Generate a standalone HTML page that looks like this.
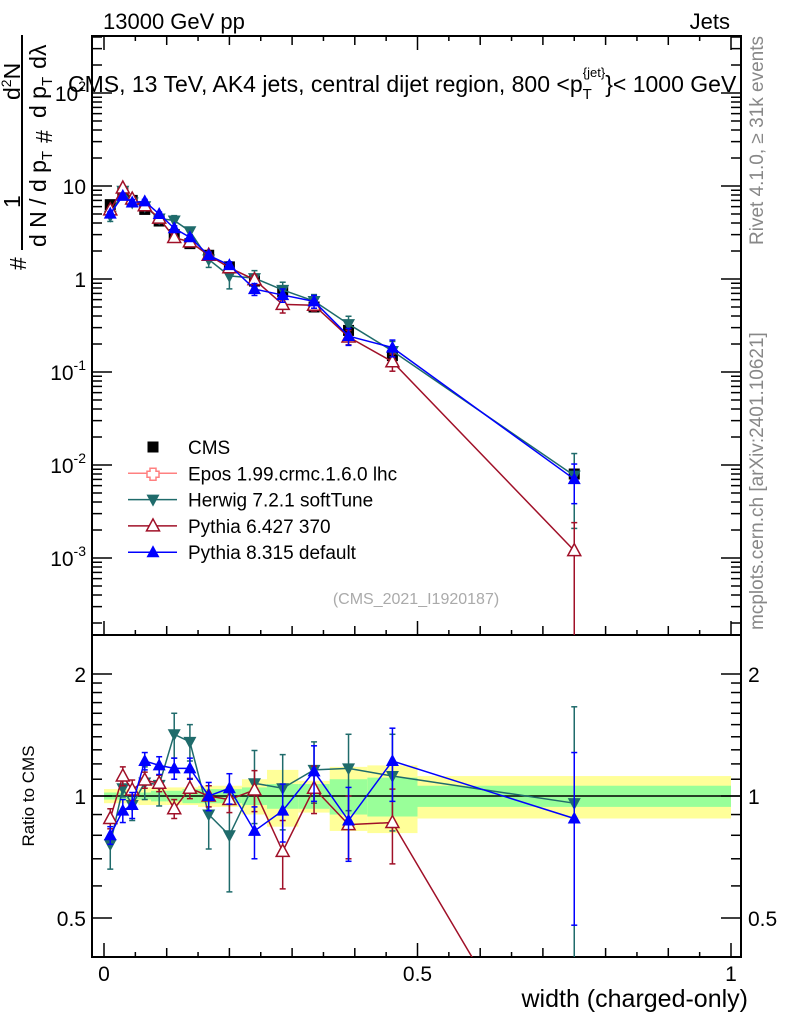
<!DOCTYPE html>
<html><head><meta charset="utf-8"><style>
html,body{margin:0;background:#fff;overflow:hidden;width:786px;height:1024px}
svg{display:block;overflow:hidden}
svg text{font-family:"Liberation Sans",sans-serif}
</style></head><body>
<svg id="chart" width="786" height="1024" xmlns="http://www.w3.org/2000/svg">
<g id="bands"></g>
<g id="axes"></g>
<g id="series"></g>
<text x="103" y="29" font-size="22">13000 GeV pp</text>
<text x="730" y="29" font-size="22" text-anchor="end">Jets</text>
<text x="68" y="92" font-size="23">CMS, 13 TeV, AK4 jets, central dijet region, 800 &lt;p<tspan font-size="15" dy="7">T</tspan><tspan font-size="13" dy="-22" dx="-9">{jet}</tspan><tspan dy="15">}&lt; 1000 GeV</tspan></text>
<text x="416" y="604" font-size="16" fill="#aaa" text-anchor="middle">(CMS_2021_I1920187)</text>
<text transform="translate(763,245) rotate(-90)" font-size="19" fill="#888">Rivet 4.1.0, ≥ 31k events</text>
<text transform="translate(763,630) rotate(-90)" font-size="19" fill="#888">mcplots.cern.ch [arXiv:2401.10621]</text>
<g font-size="23">
 <text transform="translate(26,270) rotate(-90)">#</text>
 <text transform="translate(20,208) rotate(-90)">1</text>
 <line x1="22" y1="250" x2="22" y2="35" stroke="#000" stroke-width="2"/>
 <text transform="translate(46,247) rotate(-90)">d N / d p<tspan font-size="15" dy="6">T</tspan></text>
 <text transform="translate(20,100) rotate(-90)">d<tspan font-size="14" dy="-9">2</tspan><tspan dy="9">N</tspan></text>
 <text transform="translate(52,143) rotate(-90)">#</text>
 <text transform="translate(46,118) rotate(-90)">d p<tspan font-size="15" dy="6">T</tspan><tspan dy="-6" dx="8">dλ</tspan></text>
</g>
<text x="34" y="796" font-size="17" transform="rotate(-90,34,796)" text-anchor="middle">Ratio to CMS</text>
<text x="748" y="1007" font-size="25" text-anchor="end">width (charged-only)</text>
<g id="legend"></g>
</svg>
<script>
const xVals=[0.01,0.03,0.045,0.065,0.088,0.112,0.137,0.167,0.2,0.24,0.285,0.335,0.39,0.46,0.75];
const binEdges=[0,0.02,0.04,0.055,0.075,0.1,0.125,0.15,0.185,0.22,0.26,0.31,0.36,0.42,0.5,1.0];
const cmsVals=[6.3,8.5,7.0,5.6,4.2,3.0,2.4,1.8,1.35,0.95,0.73,0.5,0.28,0.15,0.008];
const greenBand=[0.02,0.02,0.02,0.02,0.03,0.03,0.04,0.04,0.04,0.05,0.07,0.07,0.1,0.11,0.06];
const yellowBand=[0.04,0.04,0.04,0.05,0.05,0.05,0.05,0.06,0.06,0.1,0.16,0.09,0.18,0.19,0.12];
const herwigRatio=[0.76,1.045,0.95,1.08,1.065,1.42,1.36,0.9,0.8,1.075,1.045,1.16,1.17,1.12,0.96];
const herwigErr=[0.1,0.05,0.08,0.1,0.12,0.18,0.14,0.16,0.22,0.22,0.22,0.2,0.25,0.3,0.7];
const py6Ratio=[0.88,1.12,1.035,1.095,1.075,0.93,1.045,1.0,0.98,1.035,0.73,1.045,0.85,0.86,0.15];
const py6Err=[0.05,0.06,0.06,0.05,0.05,0.05,0.06,0.06,0.07,0.12,0.14,0.14,0.15,0.18,0.15];
const py8Ratio=[0.8,0.92,0.95,1.22,1.19,1.17,1.17,1.0,1.045,0.82,0.92,1.15,0.87,1.22,0.88];
const py8Err=[0.04,0.06,0.07,0.06,0.06,0.07,0.07,0.08,0.09,0.12,0.15,0.18,0.18,0.25,0.4];
const cmsErr=[0.03,0.03,0.03,0.03,0.03,0.03,0.04,0.04,0.05,0.06,0.07,0.08,0.1,0.12,0.1];

const NS='http://www.w3.org/2000/svg';
const X0=92,X1=741,MT=36,MB=635,RB=957;
const px=x=>104+627*x;
const py=v=>279-93*Math.log10(v);
const ry=r=>796-405.3*Math.log10(r);
function mk(tag,at,parent){const e=document.createElementNS(NS,tag);for(const k in at)e.setAttribute(k,at[k]);parent.appendChild(e);return e;}
const bands=document.getElementById('bands'),axes=document.getElementById('axes'),ser=document.getElementById('series'),leg=document.getElementById('legend');

for(let i=0;i<xVals.length;i++){
 const xa=Math.max(px(binEdges[i]),X0+1),xb=px(binEdges[i+1]);
 let r=mk('rect',{x:xa,y:ry(1+yellowBand[i]),width:xb-xa,height:ry(1-yellowBand[i])-ry(1+yellowBand[i]),fill:'#ffff99'},bands);
 
 
 r=mk('rect',{x:xa,y:ry(1+greenBand[i]),width:xb-xa,height:ry(1-greenBand[i])-ry(1+greenBand[i]),fill:'#99ff99'},bands);
 
 
}
mk('rect',{x:X0,y:MT,width:X1-X0,height:MB-MT,fill:'none',stroke:'#000','stroke-width':2},axes);
mk('rect',{x:X0,y:MB,width:X1-X0,height:RB-MB,fill:'none',stroke:'#000','stroke-width':2},axes);
mk('line',{x1:X0,x2:X1,y1:ry(1),y2:ry(1),stroke:'#000','stroke-width':1.5},axes);
for(let k=0;k<=20;k++){const x=px(k*0.05);const L=k%10==0?14:(k%2==0?9:5);
 for(const y of [MB,RB]) mk('line',{x1:x,x2:x,y1:y,y2:y-L,stroke:'#000','stroke-width':1.5},axes);
 mk('line',{x1:x,x2:x,y1:MT,y2:MT+L,stroke:'#000','stroke-width':1.5},axes);
}
['0','0.5','1'].forEach((t,i)=>{const e=mk('text',{x:px(i*0.5),y:981,'font-size':21,'text-anchor':'middle'},axes);e.textContent=t;
 
 });
const decExps=[2,1,0,-1,-2,-3];
for(let d=-4;d<=2;d++)for(let m=1;m<10;m++){const v=m*Math.pow(10,d);const y=py(v);if(y<MT||y>MB)continue;const L=m==1?20:10;
 mk('line',{x1:X0,x2:X0+L,y1:y,y2:y,stroke:'#000','stroke-width':1.5},axes);
 mk('line',{x1:X1,x2:X1-L,y1:y,y2:y,stroke:'#000','stroke-width':1.5},axes);}
decExps.forEach(d=>{const y=py(Math.pow(10,d));const e=mk('text',{x:86,y:y+8,'font-size':21,'text-anchor':'end'},axes);
 
 
 if(d==0)e.textContent='1';else if(d==1)e.textContent='10';else{e.textContent='10';const s=mk('tspan',{dy:-10,'font-size':14},e);s.textContent=String(d);}});
const rt=[0.4,0.5,0.6,0.7,0.8,0.9,1,1.1,1.2,1.3,1.4,1.5,1.6,1.7,1.8,1.9,2,2.5];
rt.forEach(r=>{const y=ry(r);if(y<MB||y>RB)return;const L=(r==0.5||r==1||r==2)?20:10;
 mk('line',{x1:X0,x2:X0+L,y1:y,y2:y,stroke:'#000','stroke-width':1.5},axes);
 mk('line',{x1:X1,x2:X1-L,y1:y,y2:y,stroke:'#000','stroke-width':1.5},axes);});
['0.5','1','2'].forEach(t=>{const y=ry(+t);
 for(const [x,a] of [[86,'end'],[748,'start']]){const e=mk('text',{x:x,y:y+8,'font-size':21,'text-anchor':a},axes);e.textContent=t;
 
 }});

function marker(type,x,y,color,g){
 if(type=='sq')return mk('rect',{x:x-5.5,y:y-5.5,width:11,height:11,fill:color},g);
 if(type=='tu')return mk('polygon',{points:`${x},${y-7} ${x-6.5},${y+5} ${x+6.5},${y+5}`,fill:color},g);
 if(type=='to')return mk('polygon',{points:`${x},${y-7} ${x-6.5},${y+5} ${x+6.5},${y+5}`,fill:'#fff',stroke:color,'stroke-width':1.5},g);
 if(type=='td')return mk('polygon',{points:`${x},${y+7} ${x-6.5},${y-5} ${x+6.5},${y-5}`,fill:color},g);
}
const clipM=mk('clipPath',{id:'cm'},ser);mk('rect',{x:X0,y:MT,width:X1-X0,height:MB-MT},clipM);
const clipR=mk('clipPath',{id:'cr'},ser);mk('rect',{x:X0,y:MB,width:X1-X0,height:RB-MB},clipR);
function drawSeries(name,ratio,err,color,type){
 const gm=mk('g',{'clip-path':'url(#cm)'},ser);
 
 
 const gr=mk('g',{'clip-path':'url(#cr)'},ser);
 
 
 const vals=ratio.map((r,i)=>r*cmsVals[i]);
 mk('polyline',{points:xVals.map((x,i)=>px(x)+','+py(vals[i])).join(' '),fill:'none',stroke:color,'stroke-width':1.5},gm);
 mk('polyline',{points:xVals.map((x,i)=>px(x)+','+ry(ratio[i])).join(' '),fill:'none',stroke:color,'stroke-width':1.5},gr);
 xVals.forEach((x,i)=>{
  const X=px(x);
  const lo=Math.max(vals[i]*(1-err[i]/ratio[i]),1e-6),hi=vals[i]*(1+err[i]/ratio[i]);
  mk('line',{x1:X,x2:X,y1:Math.min(py(lo),MB),y2:py(hi),stroke:color,'stroke-width':1.5},gm);
  for(const v of [lo,hi])mk('line',{x1:X-3,x2:X+3,y1:py(v),y2:py(v),stroke:color,'stroke-width':1.5},gm);
  const rl=Math.max(ratio[i]-err[i],0.01),rh=ratio[i]+err[i];
  mk('line',{x1:X,x2:X,y1:Math.min(ry(rl),RB),y2:ry(rh),stroke:color,'stroke-width':1.5},gr);
  for(const v of [rl,rh])mk('line',{x1:X-3,x2:X+3,y1:ry(v),y2:ry(v),stroke:color,'stroke-width':1.5},gr);
  const m1=marker(type,X,py(vals[i]),color,gm);
  
  
  const m2=marker(type,X,ry(ratio[i]),color,gr);
  
  
 });
}
const gc=mk('g',{'clip-path':'url(#cm)'},ser);


xVals.forEach((x,i)=>{const X=px(x),v=cmsVals[i];
 mk('line',{x1:X,x2:X,y1:py(v*(1-cmsErr[i])),y2:py(v*(1+cmsErr[i])),stroke:'#000','stroke-width':1.5},gc);
 const m=marker('sq',X,py(v),'#000',gc);
 
 });
drawSeries('herwig',herwigRatio,herwigErr,'#1f6b6b','td');
drawSeries('pythia6',py6Ratio,py6Err,'#a01028','to');
drawSeries('pythia8',py8Ratio,py8Err,'#0000ff','tu');

const entries=[['CMS','#000','sq',false],['Epos 1.99.crmc.1.6.0 lhc','#ff8080','cross',true],['Herwig 7.2.1 softTune','#1f6b6b','td',true],['Pythia 6.427 370','#a01028','to',true],['Pythia 8.315 default','#0000ff','tu',true]];
entries.forEach((e,i)=>{const y=447+26.3*i;const g=mk('g',{},leg);
 
 
 if(e[3])mk('line',{x1:128,x2:177,y1:y,y2:y,stroke:e[1],'stroke-width':1.5},g);
 if(e[2]=='cross')mk('path',{d:`M150,${y-5}h6v3h3v6h-3v3h-6v-3h-3v-6h3z`,fill:'#fff',stroke:e[1],'stroke-width':1.5},g);
 else marker(e[2],153,y,e[1],g);
 const t=mk('text',{x:188,y:y+7,'font-size':19},g);t.textContent=e[0];});
</script>
</body></html>
